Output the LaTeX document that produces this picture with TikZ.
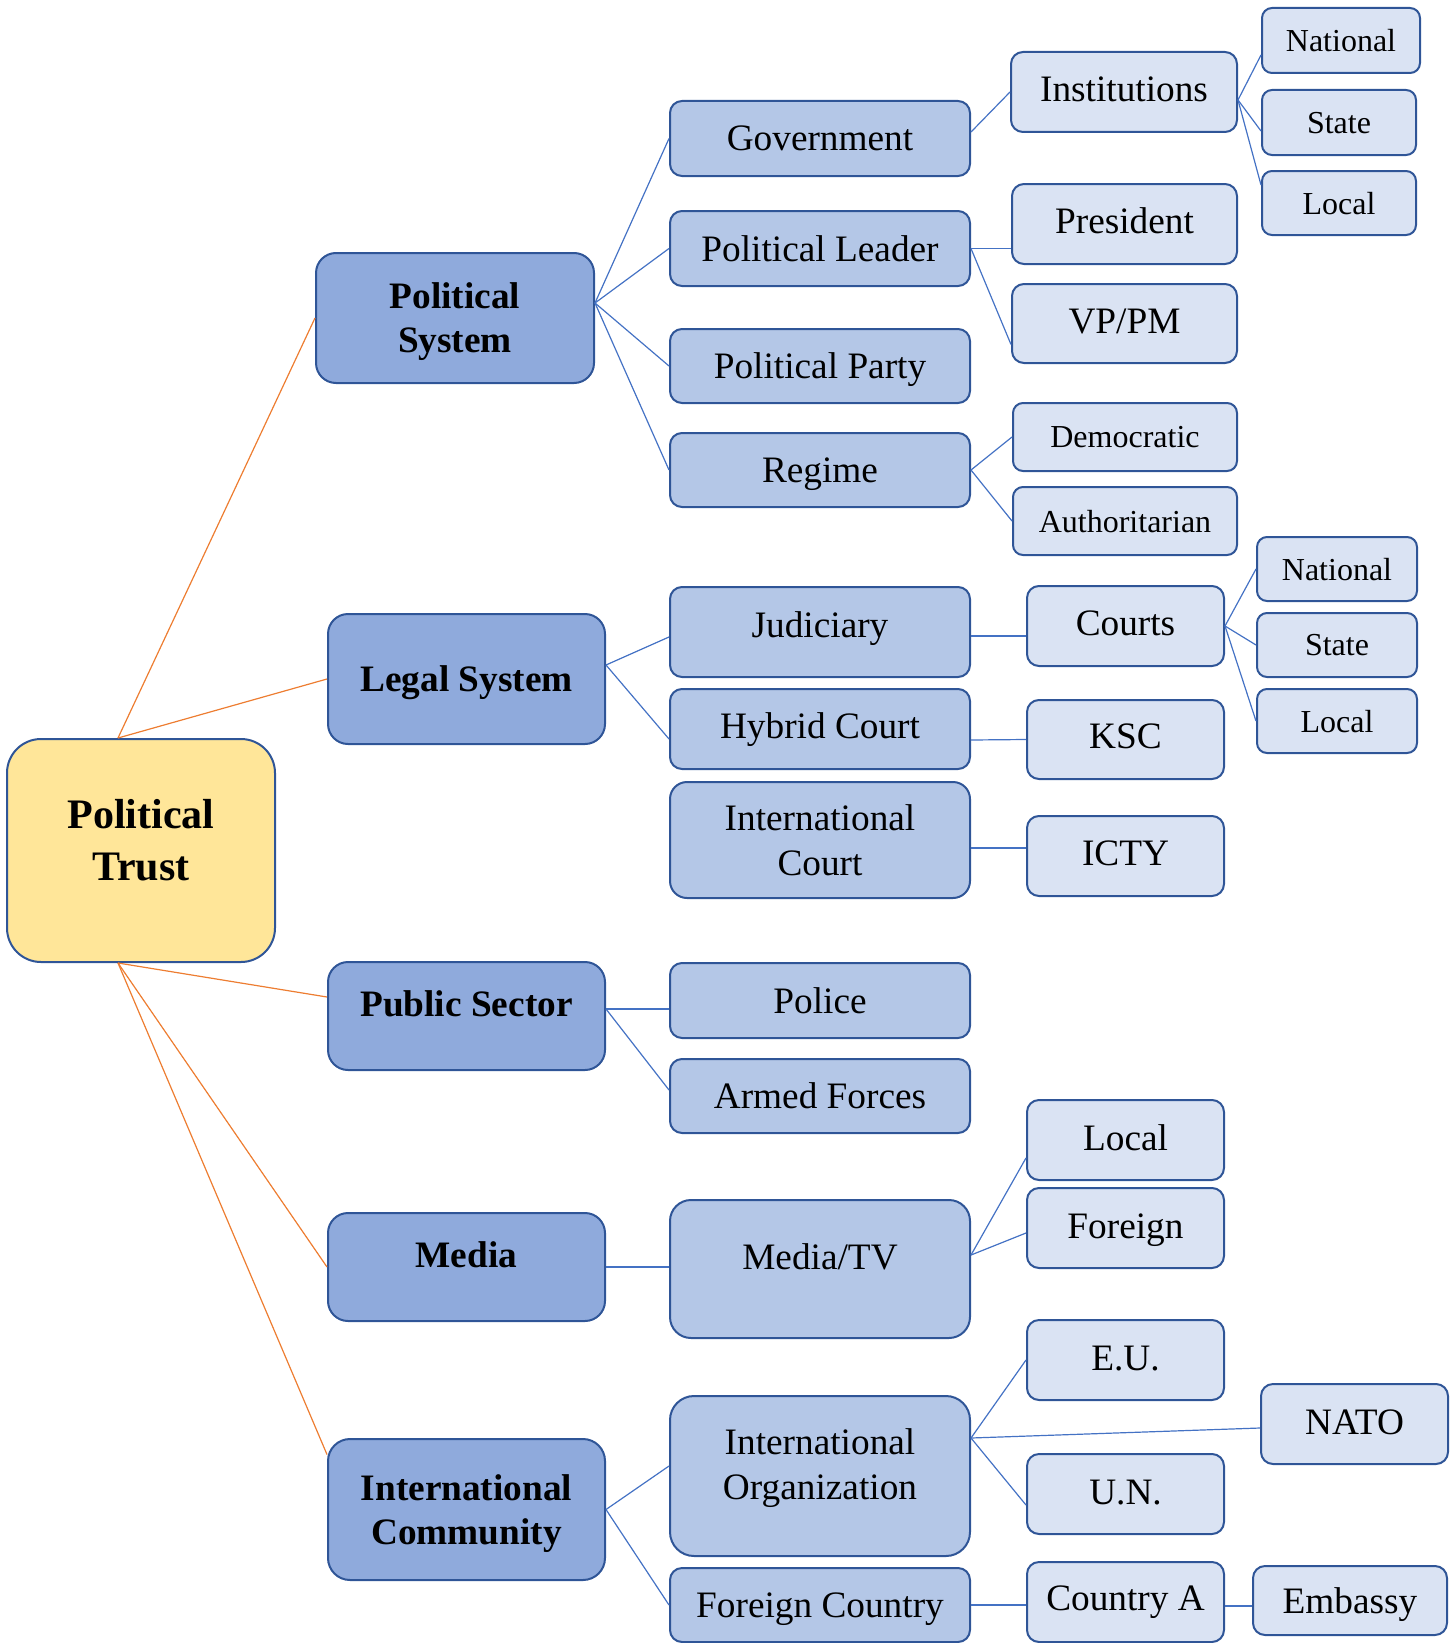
\documentclass[tikz,border=0pt]{standalone}
\usepackage{fontspec}
\setmainfont{Liberation Serif}
\usepackage{xcolor}
\usepackage{tikz}
\usetikzlibrary{positioning}

\definecolor{trustfill}{HTML}{FFE699}
\definecolor{topicfill}{HTML}{8FAADC}
\definecolor{subfill}{HTML}{B4C7E7}
\definecolor{itemfill}{HTML}{DAE3F3}
\definecolor{boxline}{HTML}{2F5597}
\definecolor{linkblue}{HTML}{4472C4}
\definecolor{linkorange}{HTML}{ED7D31}

\begin{document}
\begin{tikzpicture}[
        x=1pt, y=-1pt,
        every node/.style={inner sep=2pt, align=center},
        trust/.style={rectangle, draw=boxline, line width=2pt, fill=trustfill, rounded corners=34pt, font=\fontsize{42}{52}\selectfont\bfseries},
        topic/.style={rectangle, draw=boxline, line width=2pt, fill=topicfill, rounded corners=20pt, minimum width=277pt, text depth=0pt, font=\fontsize{37.3}{44}\selectfont\bfseries},
        sub/.style={rectangle, draw=boxline, line width=2pt, fill=subfill, rounded corners=12pt, minimum width=300pt, text depth=0pt, font=\fontsize{37.3}{45}\selectfont},
        item/.style={rectangle, draw=boxline, line width=2pt, fill=itemfill, rounded corners=12pt, text depth=4pt, font=\fontsize{37.3}{45}\selectfont},
        leaf/.style={item, rounded corners=10pt, text depth=0pt, font=\fontsize{32}{38}\selectfont},
        raised/.style={text depth=24pt},
        link/.style={draw=linkblue, line width=1.2pt},
        root/.style={draw=linkorange, line width=1.2pt}
    ]
    \useasboundingbox (0,0) rectangle (1454,1643);

    % Nodes
    \node (trust) [trust, minimum width=268pt, minimum height=223pt, text depth=22pt] at (141,850.5) {Political\\Trust};

    \node (ps) [topic, minimum width=278pt, minimum height=130pt] at (455,318) {Political\\System};
    \node (ls) [topic, minimum height=130pt] at (466.5,679) {Legal System};
    \node (pub) [topic, raised, minimum height=108pt] at (466.5,1016) {Public Sector};
    \node (media) [topic, raised, minimum height=108pt] at (466.5,1267) {Media};
    \node (ic) [topic, minimum height=141pt, rounded corners=22pt] at (466.5,1509.5) {International\\Community};

    \node (gov) [sub, minimum height=75pt] at (820,138.5) {Government};
    \node (pl) [sub, minimum height=75pt] at (820,248.5) {Political Leader};
    \node (pp) [sub, minimum height=74pt] at (820,366) {Political Party};
    \node (reg) [sub, minimum height=74pt] at (820,470) {Regime};
    \node (jud) [sub, minimum height=90pt, text depth=15pt] at (820,632) {Judiciary};
    \node (hyb) [sub, minimum height=80pt, text depth=6pt] at (820,729) {Hybrid Court};
    \node (icourt) [sub, minimum height=116pt, rounded corners=17pt] at (820,840) {International\\Court};
    \node (police) [sub, minimum height=75pt] at (820,1000.5) {Police};
    \node (armed) [sub, minimum height=74pt] at (820,1096) {Armed Forces};
    \node (mtv) [sub, raised, minimum height=138pt, rounded corners=21pt] at (820,1269) {Media/TV};
    \node (io) [sub, raised, minimum height=160pt, rounded corners=24pt] at (820,1476) {International\\Organization};
    \node (fc) [sub, minimum height=74pt] at (820,1605) {Foreign Country};

    \node (inst) [item, minimum width=226pt, minimum height=80pt, text depth=6pt] at (1124,92) {Institutions};
    \node (pres) [item, minimum width=225pt, minimum height=80pt, text depth=6pt] at (1124.5,224) {President};
    \node (vppm) [item, minimum width=225pt, minimum height=79pt] at (1124.5,323.5) {VP/PM};
    \node (dem) [leaf, minimum width=224pt, minimum height=68pt] at (1125,437) {Democratic};
    \node (auth) [leaf, minimum width=224pt, minimum height=68pt] at (1125,521) {Authoritarian};
    \node (courts) [item, minimum width=197pt, minimum height=80pt, text depth=6pt] at (1125.5,626) {Courts};
    \node (ksc) [item, minimum width=197pt, minimum height=79pt, text depth=6pt] at (1125.5,739.5) {KSC};
    \node (icty) [item, minimum width=197pt, minimum height=80pt, text depth=6pt] at (1125.5,856) {ICTY};
    \node (mloc) [item, minimum width=197pt, minimum height=80pt] at (1125.5,1140) {Local};
    \node (mfor) [item, minimum width=197pt, minimum height=80pt] at (1125.5,1228) {Foreign};
    \node (eu) [item, minimum width=197pt, minimum height=80pt] at (1125.5,1360) {E.U.};
    \node (un) [item, minimum width=197pt, minimum height=80pt] at (1125.5,1494) {U.N.};
    \node (ca) [item, minimum width=197pt, minimum height=80pt, text depth=8pt] at (1125.5,1602) {Country A};
    \node (nato) [item, minimum width=187pt, minimum height=80pt] at (1354.5,1424) {NATO};
    \node (emb) [item, minimum width=194pt, minimum height=69pt, text depth=0pt] at (1350,1600.5) {Embassy};

    \node (nat1) [leaf, minimum width=158pt, minimum height=65pt] at (1341,40.5) {National};
    \node (sta1) [leaf, minimum width=154pt, minimum height=65pt] at (1339,122.5) {State};
    \node (loc1) [leaf, minimum width=154pt, minimum height=64pt] at (1339,203) {Local};
    \node (nat2) [leaf, minimum width=160pt, minimum height=64pt] at (1337,569) {National};
    \node (sta2) [leaf, minimum width=160pt, minimum height=64pt] at (1337,645) {State};
    \node (loc2) [leaf, minimum width=160pt, minimum height=64pt] at (1337,721) {Local};

    % Links from the root
    \draw [root] ([xshift=-23pt]trust.north) -- (ps.west);
    \draw [root] ([xshift=-23pt]trust.north) -- (ls.west);
    \draw [root] ([xshift=-23pt]trust.south) -- ([yshift=19pt]pub.west);
    \draw [root] ([xshift=-23pt]trust.south) -- (media.west);
    \draw [root] ([xshift=-23pt]trust.south) -- ([yshift=55pt]ic.west);

    % Links to the second level
    \foreach \n in {gov, pl, pp, reg}
        \draw [link] ([yshift=15pt]ps.east) -- (\n.west);
    \draw [link] ([yshift=14pt]ls.east) -- ([yshift=-5pt]jud.west);
    \draw [link] ([yshift=14pt]ls.east) -- ([yshift=-10pt]hyb.west);
    \draw [link] ([yshift=7pt]pub.east) -- ([yshift=-8.5pt]police.west);
    \draw [link] ([yshift=7pt]pub.east) -- ([yshift=6pt]armed.west);
    \draw [link] (media.east) -- (media.east -| mtv.west);
    \draw [link] (ic.east) -- ([yshift=10pt]io.west);
    \draw [link] (ic.east) -- (fc.west);

    % Links to the third level
    \draw [link] ([yshift=6.5pt]gov.east) -- (inst.west);
    \draw [link] (pl.east) -- (pl.east -| pres.west);
    \draw [link] (pl.east) -- ([yshift=-21pt]vppm.west);
    \draw [link] (reg.east) -- (dem.west);
    \draw [link] (reg.east) -- (auth.west);
    \draw [link] ([yshift=-4pt]jud.east) -- ([yshift=-10pt]courts.west);
    \draw [link] ([yshift=-11pt]hyb.east) -- (ksc.west);
    \draw [link] ([yshift=-8pt]icourt.east) -- ([yshift=8pt]icty.west);
    \draw [link] ([yshift=14pt]mtv.east) -- ([yshift=-18pt]mloc.west);
    \draw [link] ([yshift=14pt]mtv.east) -- ([yshift=-5pt]mfor.west);
    \draw [link] ([yshift=38pt]io.east) -- (eu.west);
    \draw [link] ([yshift=38pt]io.east) -- ([yshift=-4pt]nato.west);
    \draw [link] ([yshift=38pt]io.east) -- ([yshift=-11pt]un.west);
    \draw [link] (fc.east) -- ([yshift=-3pt]ca.west);
    \draw [link] ([yshift=-4pt]ca.east) -- ([yshift=-5.5pt]emb.west);

    % Links to the fourth level
    \draw [link] ([yshift=-8pt]inst.east) -- ([yshift=-14.5pt]nat1.west);
    \draw [link] ([yshift=-8pt]inst.east) -- ([yshift=-8.5pt]sta1.west);
    \draw [link] ([yshift=-8pt]inst.east) -- ([yshift=18pt]loc1.west);
    \foreach \n in {nat2, sta2, loc2}
        \draw [link] (courts.east) -- (\n.west);

\end{tikzpicture}
\end{document}
